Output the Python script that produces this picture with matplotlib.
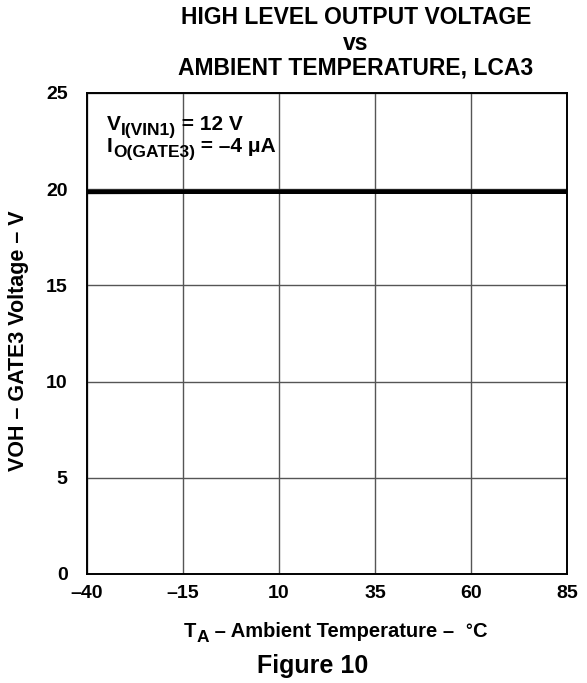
import matplotlib
matplotlib.use('Agg')
import matplotlib.pyplot as plt

# ============ DATA ============
temp_c = [-40, -15, 10, 35, 60, 85]
voh_v = [19.86, 19.87, 19.87, 19.87, 19.87, 19.87]
x_ticks = [-40, -15, 10, 35, 60, 85]
x_tick_labels = ['\u201340', '\u201315', '10', '35', '60', '85']
y_ticks = [0, 5, 10, 15, 20, 25]

plt.rcParams['font.family'] = ['Liberation Sans', 'DejaVu Sans']
plt.rcParams['font.weight'] = 'bold'

W, H = 587, 683
fig = plt.figure(figsize=(W / 100, H / 100), dpi=100)
ax = fig.add_axes([87 / W, 1 - 574 / H, (567 - 87) / W, (574 - 93) / H])

ax.plot(temp_c, voh_v, color='black', linewidth=3.3, solid_capstyle='butt')

ax.set_xlim(-40, 85)
ax.set_ylim(0, 25)
ax.set_xticks(x_ticks)
ax.set_xticklabels(x_tick_labels)
ax.set_yticks(y_ticks)
ax.tick_params(axis='both', length=0, labelsize=14)
ax.tick_params(axis='x', pad=8)
ax.tick_params(axis='y', pad=14)
for lbl in ax.get_xticklabels() + ax.get_yticklabels():
    lbl.set_fontweight('bold')

ax.grid(True, color='#555555', linewidth=1.0)
ax.set_axisbelow(True)
for sp in ax.spines.values():
    sp.set_linewidth(1.4)
    sp.set_color('black')

renderer = fig.canvas.get_renderer()


# text made of runs (string, size, baseline shift in px), placed in pixel coords
def draw_runs(x, y_img, runs, ha='left'):
    y = H - y_img
    texts, widths = [], []
    for s, fs, dy in runs:
        t = fig.text(0, 0, s, fontsize=fs, fontweight='bold',
                     transform=None, va='baseline', ha='left')
        texts.append((t, dy))
        widths.append(t.get_window_extent(renderer).width)
    total = sum(widths)
    cx = x - total / 2 if ha == 'center' else x
    for (t, dy), w in zip(texts, widths):
        t.set_position((cx, y + dy))
        cx += w


draw_runs(107, 130, [('V', 15, 0), ('I(VIN1)', 12.5, -5), (' = 12 V', 15, 0)])
draw_runs(107, 152, [('I', 15, 0), ('O(GATE3)', 12.5, -5),
                     (' = \u20134 \u03bcA', 15, 0)])

draw_runs(335, 637, [('T', 14.5, 0), ('A', 12.5, -5),
                     (' \u2013 Ambient Temperature \u2013  ', 14.5, 0),
                     ('\u00b0', 12, 1), ('C', 14.5, 0)],
          ha='center')

fig.text(19, H - 341, 'VOH \u2013 GATE3 Voltage \u2013 V', transform=None,
         rotation=90, ha='center', va='center', fontsize=15.5, fontweight='bold')

draw_runs(356, 24, [('HIGH LEVEL OUTPUT VOLTAGE', 16.5, 0)], ha='center')
draw_runs(356, 50, [('vs', 16.5, 0)], ha='center')
draw_runs(356, 75, [('AMBIENT TEMPERATURE, LCA3', 16.5, 0)], ha='center')
draw_runs(313, 673, [('Figure 10', 18, 0)], ha='center')

fig.savefig('out.png', dpi=100)
